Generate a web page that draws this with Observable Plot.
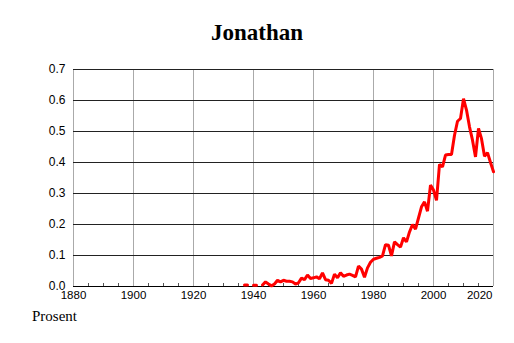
<!DOCTYPE html>
<html>
<head>
<meta charset="utf-8">
<script src="https://cdn.jsdelivr.net/npm/d3@7"></script>
<script src="https://cdn.jsdelivr.net/npm/@observablehq/plot@0.6"></script>
<style>
  html, body { margin: 0; padding: 0; background: #fff; }
  #wrap { width: 514px; height: 343px; position: relative; overflow: hidden; }
  #title { height: 50px; box-sizing: border-box; padding-top: 21px; text-align: center;
    font: bold 23px/23px "Liberation Serif", "Times New Roman", serif; color: #000; }
  #caption { position: absolute; left: 32px; top: 306px;
    font: 15px/20px "Liberation Serif", "Times New Roman", serif; color: #000; }
</style>
</head>
<body>
<div id="wrap">
  <div id="title">Jonathan</div>
  <div id="chart"></div>
  <div id="caption">Prosent</div>
</div>
<script>
const title = "Jonathan";
const yLabel = "Prosent";
const years = d3.range(1937, 2021);
const values = [
  0.005, 0.005, null, 0.004, 0.004, null, 0.005, 0.015, 0.008, 0.002,
  0.008, 0.020, 0.015, 0.020, 0.017, 0.017, 0.015, 0.008, 0.012, 0.027,
  0.022, 0.037, 0.026, 0.028, 0.031, 0.025, 0.044, 0.022, 0.020, 0.010,
  0.040, 0.028, 0.044, 0.033, 0.037, 0.040, 0.036, 0.031, 0.066, 0.056,
  0.030, 0.060, 0.078, 0.088, 0.091, 0.094, 0.099, 0.135, 0.133, 0.099,
  0.144, 0.135, 0.127, 0.157, 0.144, 0.176, 0.200, 0.185, 0.221, 0.257,
  0.273, 0.243, 0.327, 0.311, 0.278, 0.394, 0.386, 0.424, 0.426, 0.426,
  0.488, 0.533, 0.542, 0.606, 0.569, 0.515, 0.472, 0.418, 0.510, 0.477,
  0.420, 0.432, 0.400, 0.370
];
const xTicks = [1880, 1900, 1920, 1940, 1960, 1980, 2000];
const xTickLast = [2020];
const xGrid = [1880, 1900, 1920, 1940, 1960, 1980, 2000, 2020];
const xMinor = d3.range(1880, 2021, 5).filter(y => y % 20 !== 0);
const yTicks = [0, 0.1, 0.2, 0.3, 0.4, 0.5, 0.6, 0.7];

const data = years.map((y, i) => ({year: y, value: values[i]}));
const font = "Liberation Sans, Arial, sans-serif";

const chart = Plot.plot({
  width: 514,
  height: 250,
  marginLeft: 73,
  marginRight: 21,
  marginTop: 19,
  marginBottom: 14,
  style: {fontFamily: font, fontSize: "11.5px", color: "#000", background: "#fff"},
  x: {domain: [1880, 2020]},
  y: {domain: [0, 0.7]},
  marks: [
    Plot.gridX(xGrid, {stroke: "#aaa", strokeOpacity: 1, strokeWidth: 1}),
    Plot.gridY(yTicks.slice(1), {stroke: "#222", strokeOpacity: 1, strokeWidth: 1}),
    Plot.ruleY([0], {stroke: "#000", strokeWidth: 1}),
    Plot.axisY(yTicks, {tickSize: 0, tickPadding: 8, tickFormat: d3.format(".1f"), label: null, fontSize: 12}),
    Plot.axisX(xTicks, {tickSize: 0, tickPadding: 4, tickFormat: d => String(d), label: null}),
    Plot.axisX(xTickLast, {tickSize: 0, tickPadding: 4, tickFormat: d => String(d), textAnchor: "end", dx: -1, label: null}),
    Plot.axisX(xMinor, {tickSize: -3, text: null, stroke: "#555", label: null}),
    Plot.line(data, {x: "year", y: "value", stroke: "#ff0000", strokeWidth: 3, strokeLinejoin: "miter"})
  ]
});
document.getElementById("chart").appendChild(chart);
</script>
</body>
</html>
